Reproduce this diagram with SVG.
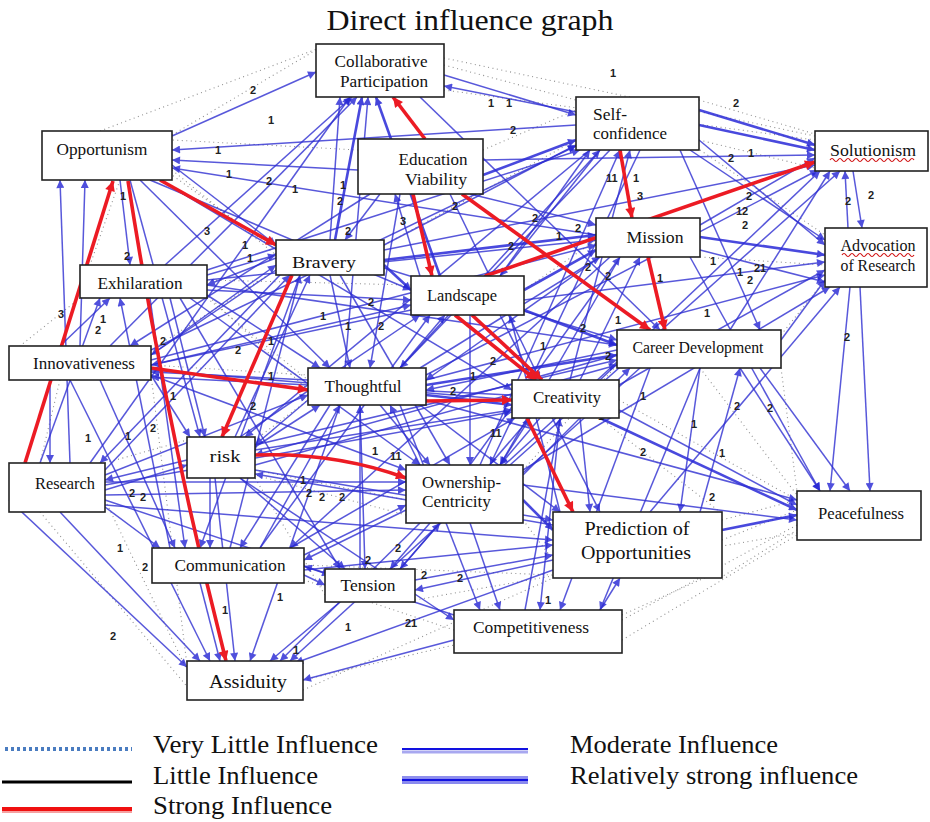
<svg xmlns="http://www.w3.org/2000/svg" width="930" height="822" viewBox="0 0 930 822">
<style>
.b{stroke:#2f2fd2;stroke-width:1.5;opacity:.8;fill:none;marker-end:url(#ab)}
.bb{stroke:#2a2ad8;stroke-width:2.6;opacity:.85;fill:none;marker-end:url(#ab)}
.r{stroke:#ec1b24;stroke-width:3.6;fill:none;marker-end:url(#ar)}
.d{stroke:#555;stroke-width:1.1;stroke-dasharray:1 3.5;opacity:.65;fill:none}
.box{fill:#fff;stroke:#222;stroke-width:1.6}
.t{font-family:"Liberation Serif","Times New Roman",serif;font-size:16px;fill:#111}
.tl{font-family:"Liberation Serif","Times New Roman",serif;font-size:19px;fill:#111}
.n{font-family:"Liberation Sans",Arial,sans-serif;font-size:11px;font-weight:bold;fill:#222}
.lg{font-family:"Liberation Serif","Times New Roman",serif;font-size:25px;fill:#111}
.sq{stroke:#d01010;stroke-width:1.2;fill:none}
</style>
<defs>
<marker id="ab" viewBox="0 0 10 10" refX="10" refY="5" markerWidth="10" markerHeight="8" orient="auto" markerUnits="userSpaceOnUse"><path d="M0,0L10,5L0,10z" fill="#2424d4"/></marker>
<marker id="ar" viewBox="0 0 10 10" refX="10" refY="5" markerWidth="13" markerHeight="10" orient="auto" markerUnits="userSpaceOnUse"><path d="M0,0L10,5L0,10z" fill="#ec1b24"/></marker>
</defs>
<rect width="930" height="822" fill="#fff"/>
<text x="470" y="30" text-anchor="middle" font-family="Liberation Serif,serif" font-size="30" textLength="287" lengthAdjust="spacingAndGlyphs" fill="#111">Direct influence graph</text>

<g id="connectors">
<g id="dotted">
<line class="d" x1="444" y1="58" x2="815" y2="136"/>
<line class="d" x1="444" y1="65" x2="576" y2="100"/>
<line class="d" x1="699" y1="100" x2="815" y2="134"/>
<line class="d" x1="444" y1="90" x2="815" y2="140"/>
<line class="d" x1="172" y1="135" x2="316" y2="50"/>
<line class="d" x1="100" y1="131" x2="330" y2="44"/>
<line class="d" x1="700" y1="150" x2="825" y2="235"/>
<line class="d" x1="781" y1="335" x2="825" y2="280"/>
<line class="d" x1="722" y1="520" x2="797" y2="500"/>
<line class="d" x1="622" y1="640" x2="797" y2="535"/>
<line class="d" x1="622" y1="620" x2="797" y2="525"/>
<line class="d" x1="720" y1="578" x2="797" y2="530"/>
<line class="d" x1="781" y1="368" x2="797" y2="491"/>
<line class="d" x1="415" y1="600" x2="797" y2="533"/>
<line class="d" x1="303" y1="690" x2="553" y2="578"/>
<line class="d" x1="303" y1="680" x2="454" y2="645"/>
<line class="d" x1="105" y1="500" x2="187" y2="670"/>
<line class="d" x1="151" y1="375" x2="187" y2="665"/>
<line class="d" x1="40" y1="512" x2="190" y2="690"/>
<line class="d" x1="80" y1="298" x2="20" y2="346"/>
<line class="d" x1="207" y1="298" x2="308" y2="380"/>
<line class="d" x1="105" y1="463" x2="187" y2="440"/>
<line class="d" x1="151" y1="350" x2="276" y2="270"/>
<line class="d" x1="384" y1="245" x2="576" y2="140"/>
<line class="d" x1="483" y1="150" x2="576" y2="110"/>
<line class="d" x1="524" y1="290" x2="596" y2="240"/>
<line class="d" x1="619" y1="400" x2="797" y2="500"/>
<line class="d" x1="700" y1="257" x2="825" y2="265"/>
<line class="d" x1="699" y1="140" x2="815" y2="168"/>
<line class="d" x1="255" y1="470" x2="406" y2="500"/>
<line class="d" x1="304" y1="565" x2="553" y2="575"/>
<line class="d" x1="523" y1="520" x2="553" y2="560"/>
<line class="d" x1="151" y1="365" x2="308" y2="375"/>
<line class="d" x1="60" y1="380" x2="40" y2="463"/>
<line class="d" x1="172" y1="170" x2="276" y2="255"/>
<line class="d" x1="207" y1="280" x2="411" y2="285"/>
<line class="d" x1="120" y1="180" x2="90" y2="265"/>
<line class="d" x1="255" y1="440" x2="308" y2="400"/>
<line class="d" x1="523" y1="470" x2="617" y2="365"/>
<line class="d" x1="722" y1="540" x2="797" y2="510"/>
<line class="d" x1="600" y1="418" x2="720" y2="512"/>
<line class="d" x1="700" y1="368" x2="797" y2="495"/>
<line class="d" x1="358" y1="150" x2="172" y2="140"/>
<line class="d" x1="276" y1="250" x2="172" y2="175"/>
<line class="d" x1="308" y1="390" x2="207" y2="295"/>
<line class="d" x1="406" y1="515" x2="255" y2="475"/>
<line class="d" x1="325" y1="595" x2="255" y2="478"/>
<line class="d" x1="454" y1="630" x2="304" y2="580"/>
<line class="d" x1="622" y1="615" x2="722" y2="570"/>
</g>

<g id="blue">
<line class="b" x1="172" y1="136" x2="316" y2="72"/>
<line class="b" x1="165" y1="265" x2="352" y2="97"/>
<line class="b" x1="110" y1="346" x2="357" y2="97"/>
<line class="bb" x1="335" y1="240" x2="362" y2="97"/>
<line class="b" x1="345" y1="368" x2="368" y2="97"/>
<line class="bb" x1="440" y1="276" x2="376" y2="97"/>
<line class="b" x1="576" y1="112" x2="444" y2="86"/>
<line class="b" x1="90" y1="463" x2="350" y2="97"/>
<line class="b" x1="420" y1="97" x2="660" y2="330"/>
<line class="b" x1="576" y1="125" x2="172" y2="150"/>
<line class="b" x1="358" y1="170" x2="172" y2="160"/>
<line class="b" x1="596" y1="235" x2="172" y2="168"/>
<line class="b" x1="140" y1="180" x2="330" y2="368"/>
<line class="b" x1="150" y1="180" x2="411" y2="290"/>
<line class="b" x1="160" y1="180" x2="512" y2="390"/>
<line class="b" x1="120" y1="180" x2="130" y2="265"/>
<line class="b" x1="130" y1="180" x2="200" y2="437"/>
<line class="b" x1="444" y1="75" x2="576" y2="115"/>
<line class="bb" x1="483" y1="175" x2="576" y2="140"/>
<line class="b" x1="500" y1="276" x2="590" y2="150"/>
<line class="b" x1="384" y1="245" x2="576" y2="145"/>
<line class="b" x1="400" y1="368" x2="600" y2="150"/>
<line class="b" x1="207" y1="270" x2="580" y2="150"/>
<line class="b" x1="480" y1="465" x2="620" y2="150"/>
<line class="b" x1="570" y1="380" x2="630" y2="150"/>
<line class="b" x1="151" y1="350" x2="576" y2="146"/>
<line class="bb" x1="699" y1="110" x2="815" y2="145"/>
<line class="bb" x1="699" y1="125" x2="815" y2="150"/>
<line class="b" x1="699" y1="140" x2="825" y2="245"/>
<line class="b" x1="700" y1="225" x2="815" y2="158"/>
<line class="b" x1="483" y1="160" x2="815" y2="155"/>
<line class="b" x1="730" y1="330" x2="830" y2="171"/>
<line class="b" x1="600" y1="380" x2="820" y2="171"/>
<line class="b" x1="384" y1="250" x2="815" y2="165"/>
<line class="b" x1="510" y1="465" x2="840" y2="171"/>
<line class="b" x1="426" y1="375" x2="818" y2="170"/>
<line class="b" x1="853" y1="171" x2="862" y2="228"/>
<line class="b" x1="848" y1="228" x2="845" y2="171"/>
<line class="bb" x1="700" y1="237" x2="825" y2="255"/>
<line class="b" x1="690" y1="150" x2="825" y2="240"/>
<line class="b" x1="524" y1="300" x2="825" y2="262"/>
<line class="b" x1="619" y1="385" x2="825" y2="270"/>
<line class="b" x1="426" y1="380" x2="825" y2="275"/>
<line class="b" x1="523" y1="470" x2="830" y2="287"/>
<line class="b" x1="650" y1="512" x2="840" y2="287"/>
<line class="b" x1="850" y1="287" x2="830" y2="491"/>
<line class="b" x1="781" y1="340" x2="825" y2="280"/>
<line class="b" x1="470" y1="194" x2="596" y2="225"/>
<line class="bb" x1="384" y1="260" x2="596" y2="235"/>
<line class="b" x1="207" y1="280" x2="596" y2="240"/>
<line class="b" x1="151" y1="360" x2="596" y2="245"/>
<line class="b" x1="420" y1="368" x2="600" y2="257"/>
<line class="b" x1="470" y1="465" x2="620" y2="257"/>
<line class="bb" x1="524" y1="290" x2="596" y2="250"/>
<line class="b" x1="580" y1="380" x2="640" y2="257"/>
<line class="b" x1="172" y1="165" x2="276" y2="245"/>
<line class="b" x1="207" y1="275" x2="276" y2="255"/>
<line class="b" x1="151" y1="355" x2="276" y2="265"/>
<line class="b" x1="105" y1="470" x2="290" y2="275"/>
<line class="b" x1="230" y1="548" x2="300" y2="275"/>
<line class="b" x1="235" y1="437" x2="310" y2="275"/>
<line class="b" x1="380" y1="194" x2="345" y2="240"/>
<line class="b" x1="276" y1="258" x2="207" y2="285"/>
<line class="b" x1="40" y1="463" x2="100" y2="298"/>
<line class="b" x1="60" y1="346" x2="110" y2="298"/>
<line class="b" x1="170" y1="548" x2="120" y2="298"/>
<line class="b" x1="207" y1="290" x2="411" y2="300"/>
<line class="b" x1="207" y1="295" x2="320" y2="368"/>
<line class="b" x1="190" y1="298" x2="420" y2="465"/>
<line class="b" x1="180" y1="298" x2="340" y2="569"/>
<line class="b" x1="207" y1="285" x2="617" y2="345"/>
<line class="bb" x1="384" y1="265" x2="411" y2="290"/>
<line class="b" x1="151" y1="365" x2="411" y2="305"/>
<line class="b" x1="240" y1="437" x2="420" y2="315"/>
<line class="b" x1="260" y1="548" x2="430" y2="315"/>
<line class="b" x1="400" y1="368" x2="445" y2="315"/>
<line class="bb" x1="524" y1="310" x2="617" y2="345"/>
<line class="b" x1="500" y1="315" x2="600" y2="512"/>
<line class="b" x1="470" y1="315" x2="470" y2="465"/>
<line class="b" x1="600" y1="150" x2="500" y2="276"/>
<line class="b" x1="276" y1="270" x2="151" y2="355"/>
<line class="b" x1="411" y1="310" x2="151" y2="365"/>
<line class="b" x1="308" y1="380" x2="151" y2="372"/>
<line class="b" x1="512" y1="395" x2="151" y2="377"/>
<line class="b" x1="384" y1="268" x2="617" y2="340"/>
<line class="bb" x1="426" y1="385" x2="617" y2="355"/>
<line class="b" x1="523" y1="475" x2="630" y2="368"/>
<line class="b" x1="255" y1="445" x2="617" y2="360"/>
<line class="b" x1="700" y1="368" x2="680" y2="512"/>
<line class="b" x1="740" y1="368" x2="820" y2="491"/>
<line class="b" x1="650" y1="368" x2="560" y2="610"/>
<line class="b" x1="760" y1="368" x2="850" y2="491"/>
<line class="b" x1="105" y1="475" x2="308" y2="395"/>
<line class="b" x1="255" y1="447" x2="320" y2="405"/>
<line class="b" x1="260" y1="548" x2="340" y2="405"/>
<line class="b" x1="330" y1="275" x2="350" y2="368"/>
<line class="b" x1="360" y1="569" x2="360" y2="405"/>
<line class="b" x1="420" y1="465" x2="390" y2="405"/>
<line class="bb" x1="426" y1="395" x2="512" y2="405"/>
<line class="b" x1="255" y1="450" x2="512" y2="410"/>
<line class="b" x1="500" y1="465" x2="530" y2="418"/>
<line class="b" x1="290" y1="548" x2="515" y2="418"/>
<line class="bb" x1="600" y1="418" x2="797" y2="510"/>
<line class="b" x1="619" y1="410" x2="797" y2="505"/>
<line class="b" x1="50" y1="380" x2="50" y2="463"/>
<line class="b" x1="187" y1="460" x2="105" y2="480"/>
<line class="b" x1="280" y1="275" x2="100" y2="463"/>
<line class="b" x1="151" y1="375" x2="190" y2="437"/>
<line class="b" x1="105" y1="490" x2="187" y2="465"/>
<line class="b" x1="170" y1="298" x2="205" y2="437"/>
<line class="b" x1="308" y1="400" x2="255" y2="445"/>
<line class="b" x1="105" y1="495" x2="406" y2="490"/>
<line class="b" x1="304" y1="555" x2="406" y2="505"/>
<line class="b" x1="380" y1="405" x2="430" y2="465"/>
<line class="b" x1="151" y1="375" x2="406" y2="470"/>
<line class="b" x1="400" y1="569" x2="440" y2="523"/>
<line class="b" x1="540" y1="418" x2="500" y2="465"/>
<line class="b" x1="340" y1="275" x2="450" y2="465"/>
<line class="bb" x1="523" y1="500" x2="553" y2="530"/>
<line class="b" x1="415" y1="580" x2="553" y2="555"/>
<line class="b" x1="304" y1="570" x2="553" y2="545"/>
<line class="b" x1="255" y1="470" x2="553" y2="520"/>
<line class="b" x1="420" y1="405" x2="560" y2="512"/>
<line class="b" x1="580" y1="418" x2="590" y2="512"/>
<line class="b" x1="105" y1="505" x2="553" y2="540"/>
<line class="bb" x1="722" y1="530" x2="797" y2="515"/>
<line class="b" x1="523" y1="485" x2="797" y2="520"/>
<line class="b" x1="426" y1="400" x2="797" y2="500"/>
<line class="b" x1="690" y1="257" x2="820" y2="491"/>
<line class="b" x1="105" y1="507" x2="160" y2="548"/>
<line class="b" x1="100" y1="380" x2="175" y2="548"/>
<line class="b" x1="210" y1="478" x2="210" y2="548"/>
<line class="b" x1="406" y1="510" x2="304" y2="560"/>
<line class="b" x1="330" y1="405" x2="240" y2="548"/>
<line class="b" x1="300" y1="275" x2="200" y2="548"/>
<line class="b" x1="150" y1="298" x2="185" y2="548"/>
<line class="b" x1="240" y1="478" x2="345" y2="569"/>
<line class="b" x1="304" y1="575" x2="325" y2="585"/>
<line class="b" x1="430" y1="523" x2="390" y2="569"/>
<line class="b" x1="360" y1="405" x2="365" y2="569"/>
<line class="b" x1="105" y1="500" x2="330" y2="575"/>
<line class="b" x1="530" y1="418" x2="400" y2="569"/>
<line class="b" x1="553" y1="560" x2="415" y2="590"/>
<line class="b" x1="470" y1="523" x2="500" y2="610"/>
<line class="b" x1="700" y1="368" x2="600" y2="610"/>
<line class="b" x1="400" y1="405" x2="480" y2="610"/>
<line class="b" x1="240" y1="478" x2="454" y2="620"/>
<line class="b" x1="560" y1="418" x2="540" y2="610"/>
<line class="b" x1="60" y1="512" x2="200" y2="661"/>
<line class="b" x1="200" y1="583" x2="220" y2="661"/>
<line class="b" x1="215" y1="478" x2="235" y2="661"/>
<line class="b" x1="340" y1="602" x2="270" y2="661"/>
<line class="b" x1="420" y1="523" x2="280" y2="661"/>
<line class="b" x1="553" y1="570" x2="295" y2="663"/>
<line class="b" x1="454" y1="640" x2="303" y2="680"/>
<line class="b" x1="340" y1="405" x2="250" y2="661"/>
<line class="b" x1="617" y1="362" x2="290" y2="661"/>
<line class="b" x1="70" y1="380" x2="210" y2="661"/>
<line class="b" x1="9" y1="500" x2="187" y2="667"/>
<line class="b" x1="105" y1="482" x2="406" y2="482"/>
<line class="b" x1="255" y1="465" x2="617" y2="365"/>
<line class="b" x1="151" y1="370" x2="512" y2="400"/>
<line class="b" x1="105" y1="485" x2="512" y2="412"/>
<line class="b" x1="450" y1="194" x2="540" y2="380"/>
<line class="b" x1="400" y1="194" x2="370" y2="368"/>
<line class="b" x1="370" y1="194" x2="130" y2="346"/>
<line class="b" x1="610" y1="150" x2="400" y2="368"/>
<line class="b" x1="640" y1="150" x2="490" y2="465"/>
<line class="b" x1="590" y1="150" x2="245" y2="437"/>
<line class="b" x1="620" y1="257" x2="500" y2="465"/>
<line class="b" x1="600" y1="257" x2="426" y2="380"/>
<line class="b" x1="610" y1="257" x2="290" y2="548"/>
<line class="b" x1="617" y1="350" x2="426" y2="390"/>
<line class="b" x1="640" y1="368" x2="515" y2="480"/>
<line class="b" x1="617" y1="355" x2="255" y2="455"/>
<line class="b" x1="700" y1="512" x2="740" y2="368"/>
<line class="b" x1="560" y1="512" x2="510" y2="315"/>
<line class="b" x1="553" y1="525" x2="255" y2="474"/>
<line class="b" x1="454" y1="615" x2="304" y2="566"/>
<line class="b" x1="525" y1="610" x2="560" y2="418"/>
<line class="b" x1="600" y1="610" x2="620" y2="578"/>
<line class="b" x1="680" y1="150" x2="760" y2="330"/>
<line class="b" x1="860" y1="287" x2="870" y2="491"/>
<line class="b" x1="700" y1="250" x2="825" y2="282"/>
<line class="b" x1="330" y1="240" x2="340" y2="97"/>
<line class="b" x1="420" y1="276" x2="395" y2="194"/>
<line class="b" x1="80" y1="346" x2="85" y2="180"/>
<line class="b" x1="70" y1="463" x2="60" y2="180"/>
</g>

<g id="red">
<line class="r" x1="25" y1="463" x2="113" y2="181"/>
<path class="r" d="M128,181 Q165,420 226,661"/>
<line class="r" x1="160" y1="180" x2="276" y2="245"/>
<line class="r" x1="292" y1="275" x2="222" y2="437"/>
<path class="r" d="M255,455 Q335,452 406,478"/>
<line class="r" x1="151" y1="368" x2="308" y2="390"/>
<line class="r" x1="426" y1="401" x2="512" y2="400"/>
<line class="r" x1="425" y1="139" x2="393" y2="97"/>
<line class="r" x1="413" y1="194" x2="432" y2="276"/>
<line class="r" x1="462" y1="194" x2="650" y2="330"/>
<line class="r" x1="620" y1="150" x2="632" y2="218"/>
<line class="r" x1="648" y1="257" x2="665" y2="330"/>
<line class="r" x1="485" y1="276" x2="815" y2="162"/>
<line class="r" x1="455" y1="315" x2="536" y2="380"/>
<line class="r" x1="472" y1="315" x2="542" y2="380"/>
<line class="r" x1="527" y1="418" x2="573" y2="512"/>
</g>
</g>

<g id="labels">
<text class="n" x="610" y="77">1</text><text class="n" x="250" y="94">2</text><text class="n" x="268" y="124">1</text>
<text class="n" x="488" y="107">1</text><text class="n" x="506" y="107">1</text><text class="n" x="733" y="107">2</text>
<text class="n" x="510" y="134">2</text><text class="n" x="215" y="154">1</text><text class="n" x="226" y="178">1</text>
<text class="n" x="266" y="185">2</text><text class="n" x="292" y="193">1</text><text class="n" x="340" y="189">1</text>
<text class="n" x="337" y="205">2</text><text class="n" x="124" y="260">2</text><text class="n" x="204" y="235">3</text>
<text class="n" x="242" y="249">1</text><text class="n" x="247" y="262">1</text><text class="n" x="58" y="318">3</text>
<text class="n" x="95" y="334">2</text><text class="n" x="100" y="323">1</text><text class="n" x="845" y="205">2</text>
<text class="n" x="868" y="199">2</text><text class="n" x="728" y="162">2</text><text class="n" x="748" y="157">1</text>
<text class="n" x="633" y="182">1</text><text class="n" x="637" y="200">3</text><text class="n" x="606" y="182">11</text>
<text class="n" x="746" y="200">2</text><text class="n" x="736" y="215">12</text><text class="n" x="742" y="229">2</text>
<text class="n" x="585" y="271">2</text><text class="n" x="605" y="280">2</text><text class="n" x="657" y="282">1</text>
<text class="n" x="747" y="284">2</text><text class="n" x="754" y="272">21</text><text class="n" x="737" y="276">1</text>
<text class="n" x="580" y="332">2</text><text class="n" x="615" y="324">1</text><text class="n" x="704" y="317">1</text>
<text class="n" x="844" y="341">2</text><text class="n" x="767" y="412">2</text><text class="n" x="734" y="410">2</text>
<text class="n" x="691" y="428">1</text><text class="n" x="719" y="457">1</text><text class="n" x="640" y="456">2</text>
<text class="n" x="709" y="501">2</text><text class="n" x="117" y="552">1</text><text class="n" x="142" y="571">2</text>
<text class="n" x="129" y="497">2</text><text class="n" x="85" y="442">1</text><text class="n" x="125" y="440">1</text>
<text class="n" x="150" y="432">2</text><text class="n" x="140" y="501">2</text><text class="n" x="457" y="582">2</text>
<text class="n" x="395" y="552">2</text><text class="n" x="284" y="557">1</text><text class="n" x="365" y="564">2</text>
<text class="n" x="421" y="579">2</text><text class="n" x="345" y="631">1</text><text class="n" x="405" y="627">21</text>
<text class="n" x="545" y="604">1</text><text class="n" x="293" y="654">1</text><text class="n" x="222" y="614">1</text>
<text class="n" x="277" y="601">1</text><text class="n" x="319" y="501">2</text><text class="n" x="306" y="497">2</text>
<text class="n" x="339" y="501">2</text><text class="n" x="300" y="484">1</text><text class="n" x="368" y="306">2</text>
<text class="n" x="378" y="330">2</text><text class="n" x="452" y="210">2</text><text class="n" x="508" y="250">2</text>
<text class="n" x="532" y="222">2</text><text class="n" x="556" y="240">1</text><text class="n" x="575" y="232">2</text>
<text class="n" x="450" y="395">2</text><text class="n" x="470" y="380">1</text><text class="n" x="490" y="365">2</text>
<text class="n" x="390" y="460">11</text><text class="n" x="372" y="455">1</text><text class="n" x="490" y="437">11</text>
<text class="n" x="268" y="345">1</text><text class="n" x="235" y="354">2</text><text class="n" x="250" y="410">2</text>
<text class="n" x="160" y="345">2</text><text class="n" x="170" y="400">1</text><text class="n" x="268" y="380">1</text>
<text class="n" x="640" y="400">1</text><text class="n" x="555" y="530">2</text><text class="n" x="598" y="420">1</text>
<text class="n" x="345" y="330">1</text><text class="n" x="320" y="320">1</text><text class="n" x="540" y="350">1</text>
<text class="n" x="605" y="360">2</text><text class="n" x="710" y="265">1</text><text class="n" x="345" y="235">2</text>
<text class="n" x="400" y="225">3</text><text class="n" x="120" y="200">1</text><text class="n" x="110" y="640">2</text>
</g>

<g id="n-collab"><rect class="box" x="316" y="44" width="128" height="53"/><text class="t" x="381" y="67" text-anchor="middle" textLength="93" lengthAdjust="spacingAndGlyphs">Collaborative</text><text class="t" x="384" y="87" text-anchor="middle" textLength="88" lengthAdjust="spacingAndGlyphs">Participation</text></g>
<g id="n-opportunism"><rect class="box" x="42" y="131" width="130" height="49"/><text class="t" x="102" y="155" text-anchor="middle" textLength="91" lengthAdjust="spacingAndGlyphs">Opportunism</text></g>
<g id="n-selfconf"><rect class="box" x="576" y="97" width="123" height="53"/><text class="t" x="593" y="120" textLength="34" lengthAdjust="spacingAndGlyphs">Self-</text><text class="t" x="593" y="139" textLength="74" lengthAdjust="spacingAndGlyphs">confidence</text></g>
<g id="n-eduvia"><rect class="box" x="358" y="139" width="125" height="55"/><text class="t" x="433" y="165" text-anchor="middle" textLength="69" lengthAdjust="spacingAndGlyphs">Education</text><text class="t" x="436" y="185" text-anchor="middle" textLength="62" lengthAdjust="spacingAndGlyphs">Viability</text></g>
<g id="n-solution"><rect class="box" x="815" y="131" width="113" height="40"/><text class="t" x="873" y="156" text-anchor="middle" textLength="86" lengthAdjust="spacingAndGlyphs">Solutionism</text><path class="sq" d="M830,160 q2,-3 4,0 t4,0 t4,0 t4,0 t4,0 t4,0 t4,0 t4,0 t4,0 t4,0 t4,0 t4,0 t4,0 t4,0 t4,0 t4,0 t4,0 t4,0 t4,0 t4,0 t4,0"/></g>
<g id="n-bravery"><rect class="box" x="276" y="240" width="108" height="35"/><text class="t" x="324" y="268" text-anchor="middle" textLength="64" lengthAdjust="spacingAndGlyphs">Bravery</text></g>
<g id="n-mission"><rect class="box" x="596" y="218" width="104" height="39"/><text class="t" x="655" y="243" text-anchor="middle" textLength="57" lengthAdjust="spacingAndGlyphs">Mission</text></g>
<g id="n-exhil"><rect class="box" x="80" y="265" width="127" height="33"/><text class="t" x="140" y="289" text-anchor="middle" textLength="85" lengthAdjust="spacingAndGlyphs">Exhilaration</text></g>
<g id="n-advoc"><rect class="box" x="825" y="228" width="102" height="59"/><text class="t" x="878" y="251" text-anchor="middle" textLength="75" lengthAdjust="spacingAndGlyphs">Advocation</text><path class="sq" d="M842,255 q2,-3 4,0 t4,0 t4,0 t4,0 t4,0 t4,0 t4,0 t4,0 t4,0 t4,0 t4,0 t4,0 t4,0 t4,0 t4,0 t4,0 t4,0 t4,0"/><text class="t" x="878" y="271" text-anchor="middle" textLength="75" lengthAdjust="spacingAndGlyphs">of Research</text></g>
<g id="n-landscape"><rect class="box" x="411" y="276" width="113" height="39"/><text class="t" x="462" y="301" text-anchor="middle" textLength="70" lengthAdjust="spacingAndGlyphs">Landscape</text></g>
<g id="n-innov"><rect class="box" x="9" y="346" width="142" height="34"/><text class="t" x="84" y="369" text-anchor="middle" textLength="102" lengthAdjust="spacingAndGlyphs">Innovativeness</text></g>
<g id="n-career"><rect class="box" x="617" y="330" width="164" height="38"/><text class="t" x="698" y="353" text-anchor="middle" textLength="131" lengthAdjust="spacingAndGlyphs">Career Development</text></g>
<g id="n-thought"><rect class="box" x="308" y="368" width="118" height="37"/><text class="t" x="363" y="392" text-anchor="middle" textLength="77" lengthAdjust="spacingAndGlyphs">Thoughtful</text></g>
<g id="n-creat"><rect class="box" x="512" y="380" width="107" height="38"/><text class="t" x="567" y="403" text-anchor="middle" textLength="68" lengthAdjust="spacingAndGlyphs">Creativity</text></g>
<g id="n-research"><rect class="box" x="9" y="463" width="96" height="49"/><text class="t" x="65" y="489" text-anchor="middle" textLength="60" lengthAdjust="spacingAndGlyphs">Research</text></g>
<g id="n-risk"><rect class="box" x="187" y="437" width="68" height="41"/><text class="t" x="225" y="462" text-anchor="middle" textLength="31" lengthAdjust="spacingAndGlyphs">risk</text></g>
<g id="n-owner"><rect class="box" x="406" y="465" width="117" height="58"/><text class="t" x="422" y="488" textLength="79" lengthAdjust="spacingAndGlyphs">Ownership-</text><text class="t" x="422" y="507" textLength="69" lengthAdjust="spacingAndGlyphs">Centricity</text></g>
<g id="n-predict"><rect class="box" x="553" y="512" width="169" height="66"/><text class="tl" x="637" y="535" text-anchor="middle" textLength="105" lengthAdjust="spacingAndGlyphs">Prediction of</text><text class="tl" x="636" y="559" text-anchor="middle" textLength="110" lengthAdjust="spacingAndGlyphs">Opportunities</text></g>
<g id="n-peace"><rect class="box" x="797" y="491" width="124" height="49"/><text class="t" x="861" y="519" text-anchor="middle" textLength="86" lengthAdjust="spacingAndGlyphs">Peacefulness</text></g>
<g id="n-comm"><rect class="box" x="152" y="548" width="152" height="35"/><text class="t" x="230" y="571" text-anchor="middle" textLength="111" lengthAdjust="spacingAndGlyphs">Communication</text></g>
<g id="n-tension"><rect class="box" x="325" y="569" width="90" height="33"/><text class="t" x="368" y="591" text-anchor="middle" textLength="55" lengthAdjust="spacingAndGlyphs">Tension</text></g>
<g id="n-compet"><rect class="box" x="454" y="610" width="168" height="43"/><text class="t" x="531" y="633" text-anchor="middle" textLength="116" lengthAdjust="spacingAndGlyphs">Competitiveness</text></g>
<g id="n-assid"><rect class="box" x="187" y="661" width="116" height="39"/><text class="tl" x="248" y="688" text-anchor="middle" textLength="78" lengthAdjust="spacingAndGlyphs">Assiduity</text></g>

<g id="legend">
<line x1="5" y1="749" x2="132" y2="749" stroke="#4a7cc0" stroke-width="4" stroke-dasharray="3 3"/>
<text class="lg" x="153" y="753" textLength="225" lengthAdjust="spacingAndGlyphs">Very Little Influence</text>
<line x1="2" y1="782" x2="132" y2="782" stroke="#000" stroke-width="3"/>
<text class="lg" x="153" y="784" textLength="165" lengthAdjust="spacingAndGlyphs">Little Influence</text>
<line x1="2" y1="809" x2="132" y2="809" stroke="#f01010" stroke-width="4"/>
<line x1="2" y1="812" x2="132" y2="812" stroke="#f6a0a0" stroke-width="2"/>
<text class="lg" x="153" y="814" textLength="179" lengthAdjust="spacingAndGlyphs">Strong Influence</text>
<line x1="402" y1="749" x2="528" y2="749" stroke="#1212e0" stroke-width="2"/>
<line x1="402" y1="752" x2="528" y2="752" stroke="#a8a8f0" stroke-width="3"/>
<text class="lg" x="570" y="753" textLength="208" lengthAdjust="spacingAndGlyphs">Moderate Influence</text>
<line x1="402" y1="777" x2="528" y2="777" stroke="#6a6ae6" stroke-width="1.5"/>
<line x1="402" y1="780" x2="528" y2="780" stroke="#1212e0" stroke-width="3"/>
<line x1="402" y1="783" x2="528" y2="783" stroke="#8a8aee" stroke-width="2"/>
<text class="lg" x="570" y="784" textLength="288" lengthAdjust="spacingAndGlyphs">Relatively strong influence</text>
</g>
</svg>
